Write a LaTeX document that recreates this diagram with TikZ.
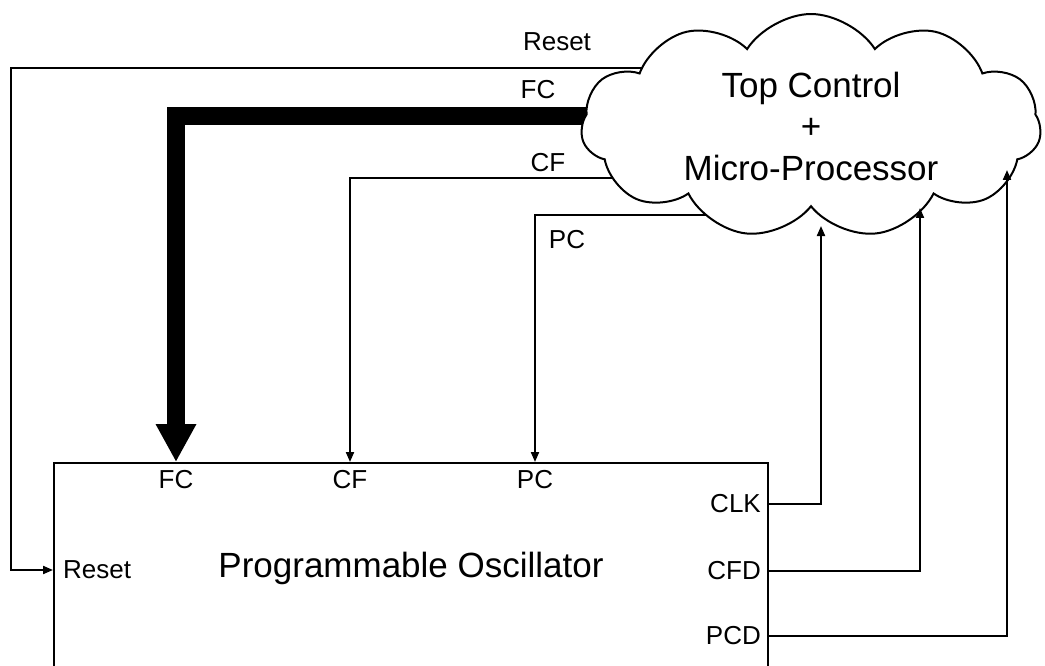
\documentclass[tikz,border=0pt]{standalone}
\usepackage{fontspec}
\setmainfont{Liberation Sans}
\usetikzlibrary{shapes.symbols,arrows.meta}
\tikzset{
  sig/.style={line width=2pt, -{Triangle[length=10pt,width=8pt]}},
  bus/.style={line width=18pt, -{Triangle[length=38pt,width=38pt]}},
  port/.style={font=\fontsize{26}{30}\selectfont, inner sep=0pt},
  big/.style={font=\fontsize{35}{41.5}\selectfont, inner sep=0pt},
}
\begin{document}
\begin{tikzpicture}[x=1pt,y=-1pt]
	\useasboundingbox (0,0) rectangle (1045,666);
	\clip (0,0) rectangle (1045,666);
	% oscillator block
	\node[draw, line width=2.4pt, minimum width=714pt, minimum height=260pt,
	      anchor=north west, inner sep=0pt] (osc) at (53,462) {};
	\node[big] (title) at (411,568) {Programmable Oscillator};
	\node[port, anchor=west] (reset) at (63,570) {Reset};
	\foreach \name/\x in {FC/176, CF/350, PC/535}
	  {
	      \node[port] (\name) at (\x,480) {\name};
	  }
	\foreach \name/\y in {CLK/504, CFD/571, PCD/636}
	  {
	      \node[port, anchor=east] (\name) at (761,\y) {\name};
	  }
	% lines into the control cloud
	\coordinate (reset-out) at (720,68);
	\coordinate (reset-bend) at (11,570);
	\coordinate (fc-out) at (680,116);
	\coordinate (cf-out) at (700,178);
	\coordinate (pc-out) at (760,215);
	\draw[sig] (reset-out) -| (reset-bend) -- (osc.west |- reset);
	\draw[bus] (fc-out) -| (FC |- osc.north);
	\draw[sig] (cf-out) -| (CF |- osc.north);
	\draw[sig] (pc-out) -| (PC |- osc.north);
	\node[port] (lbl-reset) at (557,42) {Reset};
	\node[port] (lbl-fc) at (538,90) {FC};
	\node[port] (lbl-cf) at (548,163) {CF};
	\node[port] (lbl-pc) at (567,240) {PC};
	% control cloud
	\node[draw, line width=2pt, fill=white, cloud, cloud puffs=11, cloud puff arc=115,
	      aspect=2.07, minimum width=460pt, minimum height=224pt, align=center, big]
	      (ctrl) at (811,126) {Top Control\\+\\Micro-Processor};
	% outputs back to the cloud
	\foreach \name/\x/\y in {CLK/821/226, CFD/920/208, PCD/1007/170}
	  {
	      \coordinate (\name-in) at (\x,\y);
	      \draw[sig] (osc.east |- \name) -| (\name-in);
	  }
\end{tikzpicture}
\end{document}
